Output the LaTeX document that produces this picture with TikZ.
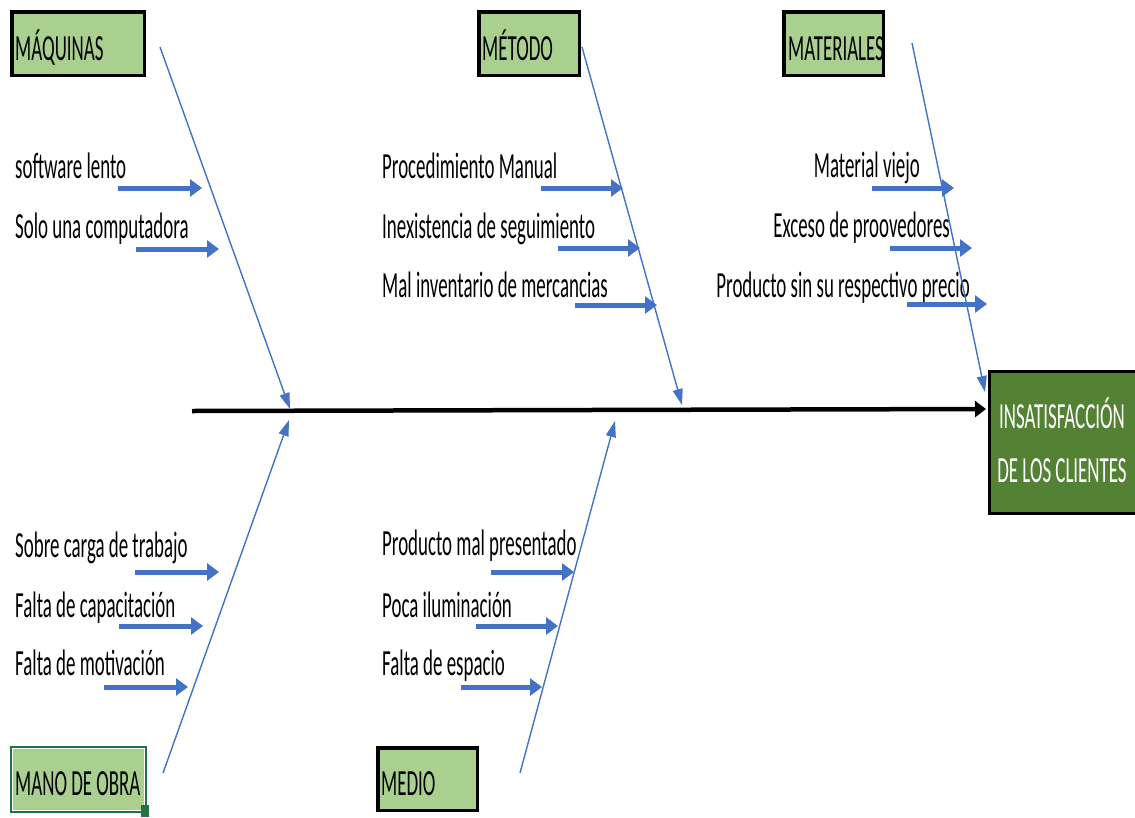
\documentclass[tikz,border=0pt]{standalone}
\usepackage{fontspec}
\setmainfont{Carlito}
\usetikzlibrary{arrows.meta}
\definecolor{lgreen}{HTML}{A9D08E}
\definecolor{dgreen}{HTML}{548235}
\definecolor{xlgreen}{HTML}{217346}
\definecolor{bblue}{HTML}{4472C4}
\newcommand{\st}[1]{\scalebox{1}[1.95]{#1}}
\begin{document}
\begin{tikzpicture}[x=1pt,y=-1pt,
  lbl/.style={inner sep=0pt, font=\fontsize{18.9}{22}\selectfont},
  catbox/.style={draw=black, line width=3.5pt, fill=lgreen, inner sep=0pt, minimum height=63.5pt},
  bone/.style={draw=bblue, line width=1.4pt, -{Triangle[length=16pt,width=10pt]}},
  cause/.style={draw=bblue, line width=5pt, -{Triangle[length=12pt,width=17pt]}},
  spine/.style={draw=black, line width=4.5pt, -{Triangle[length=11pt,width=16pt]}}]
\useasboundingbox (0,0) rectangle (1135,817);

% category boxes
\node[catbox, minimum width=132.5pt] (maqbox) at (78,43.5) {};
\node[catbox, minimum width=100.5pt] (metbox) at (529,43.5) {};
\node[catbox, minimum width=99.5pt] (matbox) at (833.5,43.5) {};
\node[catbox, minimum width=99.5pt, minimum height=62.5pt] (medbox) at (427.5,779) {};
\node[catbox, draw=xlgreen, line width=3pt, minimum width=134pt, minimum height=64pt] (manbox) at (78.5,779.5) {};
\draw[white, line width=1.5pt] ([shift={(2.3,2.3)}]manbox.north west) rectangle ([shift={(-2.3,-2.3)}]manbox.south east);
\fill[xlgreen] (141,805) rectangle (149,817);

% effect box
\node[draw=black, line width=3.5pt, fill=dgreen, minimum width=160pt, minimum height=142pt, anchor=north west, inner sep=0pt] (effect) at (987.5,369.5) {};
\node[lbl, text=white, anchor=base] (eff1) at (1062,428) {\st{INSATISFACCIÓN}};
\node[lbl, text=white, anchor=base] (eff2) at (1062,482) {\st{DE LOS CLIENTES}};

% category labels
\node[lbl, anchor=base west] (maq) at (15,60) {\st{MÁQUINAS}};
\node[lbl, anchor=base west] (met) at (482,60) {\st{MÉTODO}};
\node[lbl, anchor=base west] (mat) at (788,60) {\st{MATERIALES}};
\node[lbl, anchor=base west] (man) at (15,795) {\st{MANO DE OBRA}};
\node[lbl, anchor=base west] (med) at (381,795) {\st{MEDIO}};

% cause labels
\node[lbl, anchor=base west] (c11) at (15,178) {\st{software lento}};
\node[lbl, anchor=base west] (c12) at (15,238) {\st{Solo una computadora}};
\node[lbl, anchor=base west] (c21) at (382,178) {\st{Procedimiento Manual}};
\node[lbl, anchor=base west] (c22) at (382,238) {\st{Inexistencia de seguimiento}};
\node[lbl, anchor=base west] (c23) at (382,297) {\st{Mal inventario de mercancias}};
\node[lbl, anchor=base east] (c31) at (920,177) {\st{Material viejo}};
\node[lbl, anchor=base east] (c32) at (950,237) {\st{Exceso de proovedores}};
\node[lbl, anchor=base east] (c33) at (970,297) {\st{Producto sin su respectivo precio}};
\node[lbl, anchor=base west] (c41) at (15,557) {\st{Sobre carga de trabajo}};
\node[lbl, anchor=base west] (c42) at (15,617) {\st{Falta de capacitación}};
\node[lbl, anchor=base west] (c43) at (15,675) {\st{Falta de motivación}};
\node[lbl, anchor=base west] (c51) at (382,555) {\st{Producto mal presentado}};
\node[lbl, anchor=base west] (c52) at (382,617) {\st{Poca iluminación}};
\node[lbl, anchor=base west] (c53) at (382,675) {\st{Falta de espacio}};

% coordinates
\coordinate (sp0) at (192,411);
\coordinate (sp1) at (986,409);
\coordinate (b1s) at (160,47);  \coordinate (b1e) at (290,409);
\coordinate (b2s) at (582,47);  \coordinate (b2e) at (682,405);
\coordinate (b3s) at (912,43);  \coordinate (b3e) at (985,392);
\coordinate (b4s) at (163,773); \coordinate (b4e) at (289,420);
\coordinate (b5s) at (520,773); \coordinate (b5e) at (615,421);

\coordinate (a11s) at (118,188); \coordinate (a11e) at (202,188);
\coordinate (a12s) at (136,249); \coordinate (a12e) at (219,249);
\coordinate (a21s) at (541,188); \coordinate (a21e) at (623,188);
\coordinate (a22s) at (558,248); \coordinate (a22e) at (640,248);
\coordinate (a23s) at (575,305); \coordinate (a23e) at (657,305);
\coordinate (a31s) at (872,188); \coordinate (a31e) at (954,188);
\coordinate (a32s) at (890,248); \coordinate (a32e) at (972,248);
\coordinate (a33s) at (907,304); \coordinate (a33e) at (987,304);
\coordinate (a41s) at (135,572); \coordinate (a41e) at (219,572);
\coordinate (a42s) at (119,626); \coordinate (a42e) at (203,626);
\coordinate (a43s) at (104,687); \coordinate (a43e) at (188,687);
\coordinate (a51s) at (491,572); \coordinate (a51e) at (574,572);
\coordinate (a52s) at (476,626); \coordinate (a52e) at (558,626);
\coordinate (a53s) at (461,687); \coordinate (a53e) at (542,687);

% spine and bones
\draw[spine] (sp0) -- (sp1);
\foreach \i in {1,...,5} {\draw[bone] (b\i s) -- (b\i e);}

% cause arrows
\foreach \p in {11,12,21,22,23,31,32,33,41,42,43,51,52,53} {\draw[cause] (a\p s) -- (a\p e);}
\end{tikzpicture}
\end{document}
